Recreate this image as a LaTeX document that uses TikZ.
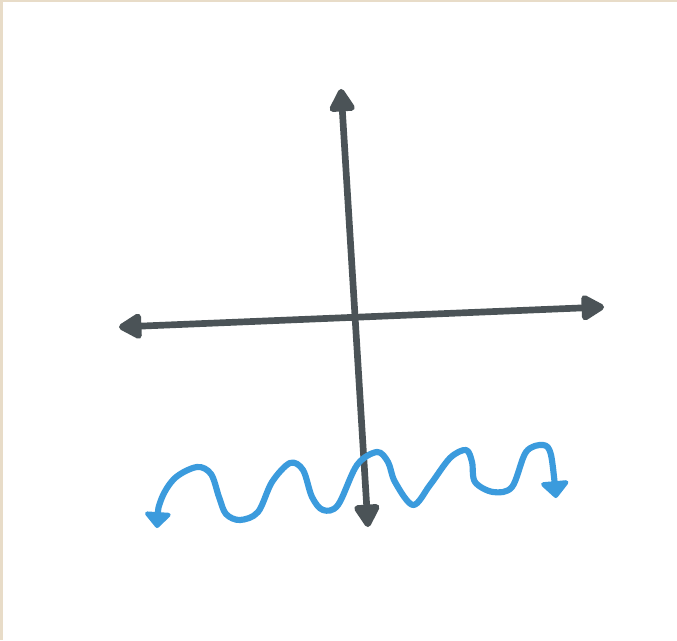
\documentclass[tikz,border=0pt]{standalone}
\usetikzlibrary{arrows.meta}
\definecolor{axisgray}{HTML}{4B5357}
\definecolor{waveblue}{HTML}{3B9BDD}
\definecolor{framebeige}{HTML}{E8DCC8}
\tikzset{
  axisline/.style={draw=axisgray, line width=1.9pt, line cap=round,
    {Triangle[round, length=0.26cm, width=0.28cm]}-{Triangle[round, length=0.26cm, width=0.28cm]}},
  waveline/.style={draw=waveblue, line width=1.75pt, line cap=round, line join=round,
    {Triangle[round, length=0.17cm, width=0.3cm]}-{Triangle[round, length=0.18cm, width=0.32cm]}}
}
\begin{document}
\begin{tikzpicture}[x=0.01cm, y=-0.01cm]
    % 1. frame and background
    \fill[framebeige] (0,0) rectangle (677,640);
    \fill[white] (2.5,2.5) rectangle (677,640);
    \useasboundingbox (0,0) rectangle (677,640);

    % 2. axis end points
    \coordinate (xl) at (119,327);
    \coordinate (xr) at (604,307);
    \coordinate (yt) at (341,89);
    \coordinate (yb) at (368,527);

    % 3. axes
    \draw[axisline] (xl) -- (xr);
    \draw[axisline] (yt) -- (yb);

    % 4. wave
    \draw[waveline] plot[smooth, tension=0.55] coordinates {
      (157,528) (161,500) (175,478) (197,467) (211,474) (219,497)
      (226,514) (240,520) (258,512) (272,482) (290,463) (303,470)
      (312,497) (323,510) (338,505) (357,465) (377,452) (388,462)
      (395,482) (413,505) (430,485) (450,458) (466,450) (472,462)
      (475,482) (493,492) (512,487) (526,452) (543,445) (551,455)
      (556,498)};
\end{tikzpicture}
\end{document}
